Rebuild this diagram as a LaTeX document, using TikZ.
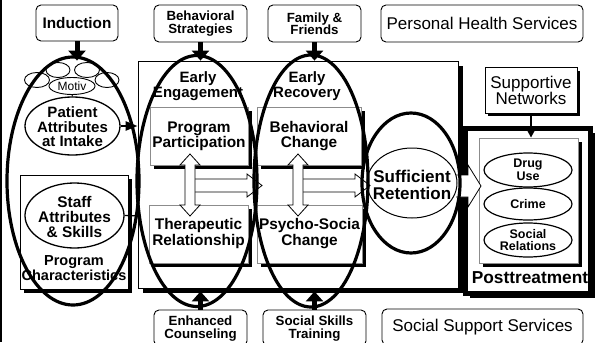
\documentclass[tikz,border=0pt]{standalone}
\usepackage{fontspec}
\setmainfont{Liberation Sans}
\usetikzlibrary{shapes.geometric,arrows.meta,shadows,calc}
\newcommand\fsz[2]{\fontsize{#1}{#2}\selectfont}
\begin{document}
\begin{tikzpicture}[x=1pt,y=-1pt,
  rbox/.style={draw, rounded corners=5pt, line width=0.9pt, inner sep=0pt, align=center, fill=white},
  shbox/.style={draw, fill=white, line width=0.8pt, inner sep=0pt, align=center,
    general shadow={fill=black, shadow xshift=#1, shadow yshift=-#1}},
  shbox/.default=4pt,
  gbox/.style={shbox=#1, draw=black!45},
  gbox/.default=3.5pt,
  txt/.style={inner sep=0pt, align=center},
  smell/.style={draw, ellipse, line width=1.2pt, inner sep=0pt, fill=white},
  tinyell/.style={draw, ellipse, line width=0.9pt, inner sep=0pt},
  bigell/.style={draw, ellipse, line width=3.2pt, inner sep=0pt},
  hollow/.style={draw, fill=white, line width=0.8pt, line join=miter},
  tharrow/.style={line width=5pt, -{Triangle[width=17pt,length=10pt]}},
]
\useasboundingbox (0,0) rectangle (601,342);
\fill[white] (0,0) rectangle (601,342);
\draw[line width=2pt] (1,0) -- (1,342);

% top and bottom service boxes
\node[rbox, minimum width=82pt, minimum height=36pt, font=\fsz{15.3}{15}\bfseries] (ind) at (77,23) {Induction};
\node[rbox, minimum width=93pt, minimum height=37pt, font=\fsz{13.3}{12.5}\bfseries] (bs) at (200.5,23.5) {Behavioral\\Strategies};
\node[rbox, minimum width=93pt, minimum height=37pt, font=\fsz{13.3}{12.5}\bfseries] (ff) at (314.5,23.5) {Family \&\\Friends};
\node[rbox, minimum width=202pt, minimum height=37pt, font=\fsz{17}{17}] (phs) at (482,23.5) {Personal Health Services};
\node[rbox, minimum width=93pt, minimum height=36pt] (enh) at (200.5,328) {};
\node[txt, font=\fsz{13.3}{13}\bfseries] (enht) at (200.5,328.5) {Enhanced\\Counseling};
\node[rbox, minimum width=103pt, minimum height=36pt] (sst) at (314.5,328) {};
\node[txt, font=\fsz{13.3}{13}\bfseries] (sstt) at (314.5,328.5) {Social Skills\\Training};
\node[rbox, minimum width=201pt, minimum height=36pt, font=\fsz{17}{17}] (sss) at (482.5,327) {Social Support Services};

% container and program characteristics
\node[shbox=5pt, minimum width=320pt, minimum height=227pt] (cont) at (298,174.5) {};
\node[shbox=4pt, minimum width=108pt, minimum height=114pt] (pc) at (74,232) {};
\node[txt, font=\fsz{14.5}{15}\bfseries] (pctext) at (74,268) {Program\\Characteristics};

\node[txt, font=\fsz{15}{12.5}\bfseries] (ee) at (198,86) {Early\\Engagement};
\node[txt, font=\fsz{15}{12.5}\bfseries] (er) at (307,86) {Early\\Recovery};

\node[gbox, minimum width=98pt, minimum height=58pt, font=\fsz{15.4}{15}\bfseries] (pp) at (199,136) {Program\\Participation};
\node[gbox, minimum width=104pt, minimum height=58pt, font=\fsz{15.4}{15}\bfseries] (bc) at (309,136) {Behavioral\\Change};
\node[gbox, minimum width=99pt, minimum height=58pt, font=\fsz{15.4}{16}\bfseries] (tr) at (198.5,234) {Therapeutic\\Relationship};
\node[gbox, minimum width=105pt, minimum height=58pt, font=\fsz{15.4}{16}\bfseries] (ps) at (309.5,234) {Psycho-Socia\\Change};

% posttreatment
\node[draw, line width=5pt, fill=white, minimum width=125pt, minimum height=165pt, inner sep=0pt,
  general shadow={fill=black, shadow xshift=4pt, shadow yshift=-4pt}] (post) at (528,211) {};
\node[gbox=4pt, minimum width=99pt, minimum height=125pt] (inner) at (528.5,200.5) {};
\node[smell, minimum width=88pt, minimum height=34pt] (drug) at (528,170) {};
\node[txt, font=\fsz{12.5}{12.5}\bfseries] (drugt) at (528,170) {Drug\\Use};
\node[smell, minimum width=88pt, minimum height=32pt] (crime) at (528,204) {};
\node[txt, font=\fsz{12.5}{12.5}\bfseries] (crimet) at (528,204) {Crime};
\node[smell, minimum width=88pt, minimum height=34pt] (soc) at (528,240) {};
\node[txt, font=\fsz{12.5}{12.5}\bfseries] (soct) at (528,240) {Social\\Relations};
\node[txt, font=\fsz{17.3}{17}\bfseries] (ptt) at (530,278) {Posttreatment};

\node[shbox=3pt, line width=1pt, minimum width=92pt, minimum height=45pt, font=\fsz{17}{15}] (sn) at (531,90.5) {Supportive\\Networks};
\draw[line width=1.8pt, -{Triangle[width=8pt,length=8pt]}] (sn.south) -- (sn.south |- inner.north);

% hollow block arrows
\draw[hollow] (190,179) -- (247,179) -- (247,174) -- (262,185.5) -- (247,197) -- (247,192) -- (190,192);
\draw[hollow] (298,179) -- (355,179) -- (355,174) -- (370,185.5) -- (355,197) -- (355,192) -- (298,192);
\draw[hollow] (456,175) -- (468,175) -- (468,165) -- (481,186) -- (468,207) -- (468,197) -- (456,197);
\draw[hollow] (190,154) -- (200,165) -- (195,165) -- (195,205) -- (200,205) -- (190,216) -- (180,205) -- (185,205) -- (185,165) -- (180,165) -- cycle;
\draw[hollow] (298,154) -- (308,165) -- (303,165) -- (303,205) -- (308,205) -- (298,216) -- (288,205) -- (293,205) -- (293,165) -- (288,165) -- cycle;

% patient attributes cluster
\node[tinyell, minimum width=24pt, minimum height=15pt] (c1) at (58,70) {};
\node[tinyell, minimum width=25pt, minimum height=15pt] (c2) at (87,70) {};
\node[tinyell, minimum width=25pt, minimum height=15pt] (c3) at (37,80) {};
\node[tinyell, minimum width=24pt, minimum height=15pt] (c4) at (107,80) {};
\node[tinyell, fill=white, minimum width=46pt, minimum height=17pt] (motiv) at (72,86) {};
\node[txt, font=\fsz{12}{12}] (motivt) at (72,86) {Motiv};
\node[smell, line width=1.3pt, minimum width=95pt, minimum height=58pt] (pat) at (72.5,126) {};
\node[txt, font=\fsz{15}{14.5}\bfseries] (patt) at (72.5,127) {Patient\\Attributes\\at Intake};
\draw[line width=0.9pt] (motiv.south) -- (pat.north);
\node[smell, line width=1.3pt, minimum width=99pt, minimum height=65pt] (staff) at (74.5,215.5) {};
\node[txt, font=\fsz{15.4}{15}\bfseries] (stafft) at (74.5,217) {Staff\\Attributes\\\& Skills};
\coordinate (staffend) at (140,216);
\draw[line width=1.3pt] (staff.east) -- (staffend);

% sufficient retention
\node[draw, ellipse, line width=1pt, inner sep=0pt, minimum width=90pt, minimum height=70pt] (retin) at (412,183) {};
\node[txt, font=\fsz{17}{17}\bfseries] (rett) at (412,185) {Sufficient\\Retention};

% big phase ellipses
\node[bigell, minimum width=132pt, minimum height=248pt] (ell1) at (73,181) {};
\node[bigell, minimum width=120pt, minimum height=251pt] (ell2) at (197,181) {};
\node[bigell, minimum width=114pt, minimum height=252pt] (ell3) at (311,181) {};
\node[bigell, minimum width=98pt, minimum height=140pt] (ellret) at (411,183) {};

% connectors
\draw[line width=2.5pt, -{Triangle[width=9pt,length=12pt]}] (pat.east) -- (pat.east -| cont.west);
\draw[tharrow] (ind.south) -- (ind.south |- cont.north);
\draw[tharrow] (bs.south) -- (bs.south |- cont.north);
\draw[tharrow] (ff.south) -- (ff.south |- cont.north);
\draw[tharrow] (enh.north) -- ($(enh.north |- cont.south)+(0,3)$);
\draw[tharrow] (sst.north) -- ($(sst.north |- cont.south)+(0,3)$);
\end{tikzpicture}
\end{document}
